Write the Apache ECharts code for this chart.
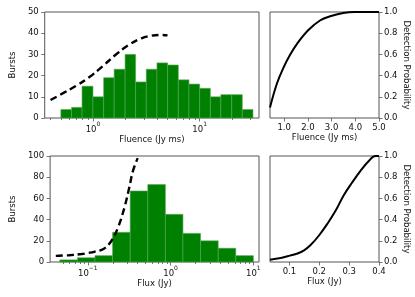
<!DOCTYPE html>
<html>
<head>
<meta charset="utf-8">
<script src="https://cdn.jsdelivr.net/npm/echarts@6/dist/echarts.min.js"></script>
<style>html,body{margin:0;padding:0;background:#fff}#c{width:415px;height:297px}</style>
</head>
<body>
<div id="c"></div>
<script>
// ---- Data ----
const fluenceBinEdges = [0.50, 0.63, 0.79, 1.0, 1.26, 1.58, 2.0, 2.51, 3.16, 3.98, 5.01, 6.31, 7.94, 10.0, 12.6, 15.8, 20.0, 25.1, 31.6];
const fluenceCounts = [4, 5, 15, 10, 19, 23, 30, 17, 23, 26, 25, 18, 16, 14, 10, 11, 11, 4];
const fluenceCurveX = [0.40, 0.52, 0.69, 0.92, 1.22, 1.62, 2.15, 2.85, 3.53, 4.36, 5.0];
const fluenceCurveY = [8.5, 11.6, 15.1, 19.2, 24.2, 29.7, 34.4, 37.6, 38.8, 39.2, 39.0];

const fluxBinEdges = [0.0458, 0.0748, 0.122, 0.199, 0.325, 0.530, 0.865, 1.41, 2.30, 3.76, 6.13, 10.0];
const fluxCounts = [2, 4, 6, 28, 67, 73, 45, 27, 20, 13, 6];
const fluxCurveX = [0.041, 0.059, 0.084, 0.10, 0.119, 0.156, 0.194, 0.232, 0.277, 0.316, 0.351, 0.40];
const fluxCurveY = [5.8, 6.4, 7.5, 8.5, 9.6, 12.5, 20.3, 32.8, 51.5, 70, 86, 98];

const probFluenceX = [0.40, 0.70, 0.98, 1.23, 1.54, 2.02, 2.51, 2.94, 3.49, 3.95, 5.0];
const probFluenceY = [0.10, 0.33, 0.48, 0.59, 0.70, 0.83, 0.92, 0.96, 0.99, 1.0, 1.0];
const probFluxX = [0.035, 0.071, 0.102, 0.127, 0.149, 0.171, 0.199, 0.227, 0.254, 0.282, 0.310, 0.338, 0.365, 0.388, 0.40];
const probFluxY = [0.022, 0.038, 0.06, 0.08, 0.11, 0.16, 0.25, 0.36, 0.48, 0.63, 0.75, 0.86, 0.95, 1.0, 1.0];

const fluenceMajorTicks = [1, 10];
const fluenceMajorExp = ['0', '1'];
const fluenceMinorTicks = [0.4, 0.5, 0.6, 0.7, 0.8, 0.9, 2, 3, 4, 5, 6, 7, 8, 9, 20, 30];
const fluxMajorTicks = [0.1, 1, 10];
const fluxMajorExp = ['\u22121', '0', '1'];
const fluxMinorTicks = [0.05, 0.06, 0.07, 0.08, 0.09, 0.2, 0.3, 0.4, 0.5, 0.6, 0.7, 0.8, 0.9, 2, 3, 4, 5, 6, 7, 8, 9];
const probFluenceTicks = [1, 2, 3, 4, 5];
const probFluxTicks = [0.1, 0.2, 0.3, 0.4];

// ---- Styles ----
const FONT = 'DejaVu Sans';
const FS = 8.5;
const TXT = '#111';
const FRAME = '#555';
const zip = (a, b) => a.map((v, i) => [v, b[i]]);
const lookup = (vals, exps) => v => {
  let best = 0, d = Infinity;
  vals.forEach((t, i) => { const dd = Math.abs(Math.log(t) - Math.log(v)); if (dd < d) { d = dd; best = i; } });
  return '{b|10}{s|' + exps[best] + '}';
};
const grids = [
  {left: 42, top: 12, width: 217, height: 106},
  {left: 270, top: 12, width: 109, height: 106},
  {left: 42, top: 156, width: 217, height: 106},
  {left: 270, top: 156, width: 109, height: 106}
].map(g => Object.assign({show: true, borderColor: FRAME, borderWidth: 1, backgroundColor: 'transparent'}, g));

const labelStyle = {fontFamily: FONT, fontSize: FS, color: TXT};
const nameStyle = {fontFamily: FONT, fontSize: FS, color: TXT};
const tick = (len) => ({show: true, length: len, lineStyle: {color: FRAME, width: 0.8}});
const rich = {
  b: {fontFamily: FONT, fontSize: FS, color: TXT, verticalAlign: 'bottom', lineHeight: 13},
  s: {fontFamily: FONT, fontSize: 6, color: TXT, verticalAlign: 'top', lineHeight: 13}
};

function logAxis(grid, min, max, major, exps, minor, name) {
  return [
    {type: 'log', logBase: 10, gridIndex: grid, min: min, max: max, position: 'bottom',
     axisLine: {show: false}, splitLine: {show: false},
     axisTick: Object.assign(tick(3.5), {customValues: major}),
     axisLabel: Object.assign({customValues: major, margin: 3, formatter: lookup(major, exps), rich: rich}, labelStyle),
     name: name, nameLocation: 'middle', nameGap: 15, nameTextStyle: nameStyle},
    {type: 'log', logBase: 10, gridIndex: grid, min: min, max: max, position: 'bottom',
     axisLine: {show: false}, splitLine: {show: false},
     axisTick: Object.assign(tick(2), {customValues: minor}),
     axisLabel: {show: false}}
  ];
}
function linAxis(grid, min, max, ticks, name) {
  return {type: 'value', gridIndex: grid, min: min, max: max, position: 'bottom',
    axisLine: {show: false}, splitLine: {show: false},
    axisTick: Object.assign(tick(3.5), {customValues: ticks}),
    axisLabel: Object.assign({customValues: ticks, margin: 5, formatter: v => v.toFixed(1)}, labelStyle),
    name: name, nameLocation: 'middle', nameGap: 15, nameTextStyle: nameStyle};
}
function countAxis(grid, max, interval) {
  return {type: 'value', gridIndex: grid, min: 0, max: max, interval: interval, position: 'left',
    axisLine: {show: false}, splitLine: {show: false}, axisTick: tick(3.5),
    axisLabel: Object.assign({margin: 6}, labelStyle),
    name: 'Bursts', nameLocation: 'middle', nameGap: 25, nameRotate: 90, nameTextStyle: nameStyle};
}
function probAxis(grid) {
  return {type: 'value', gridIndex: grid, min: 0, max: 1, interval: 0.2, position: 'right',
    axisLine: {show: false}, splitLine: {show: false}, axisTick: tick(3.5),
    axisLabel: Object.assign({margin: 5, formatter: v => v.toFixed(1)}, labelStyle),
    name: 'Detection Probability', nameLocation: 'middle', nameGap: 12, nameRotate: -90, nameTextStyle: nameStyle};
}

const fluenceAx = logAxis(0, 0.353, 36, fluenceMajorTicks, fluenceMajorExp, fluenceMinorTicks, 'Fluence (Jy ms)');
const fluxAx = logAxis(2, 0.035, 11.7, fluxMajorTicks, fluxMajorExp, fluxMinorTicks, 'Flux (Jy)');
const xAxes = [
  fluenceAx[0], fluenceAx[1],
  linAxis(1, 0.4, 5.0, probFluenceTicks, 'Fluence (Jy ms)'),
  fluxAx[0], fluxAx[1],
  linAxis(3, 0.035, 0.4, probFluxTicks, 'Flux (Jy)')
];
const yAxes = [countAxis(0, 50, 10), probAxis(1), countAxis(2, 100, 20), probAxis(3)];

function histRender(params, api) {
  const p0 = api.coord([api.value(0), 0]);
  const p1 = api.coord([api.value(1), api.value(2)]);
  return {type: 'rect', shape: {x: p0[0], y: p1[1], width: p1[0] - p0[0], height: p0[1] - p1[1]},
    style: {fill: '#008000', stroke: '#55a555', lineWidth: 0.6}};
}
const histData = (edges, counts) => counts.map((c, i) => [edges[i], edges[i + 1], c]);

const dashed = {color: '#000', width: 2.4, type: [7, 4], cap: 'butt'};
const solid = {color: '#000', width: 2};

const option = {
  animation: false,
  grid: grids,
  xAxis: xAxes,
  yAxis: yAxes,
  series: [
    {type: 'custom', xAxisIndex: 0, yAxisIndex: 0, renderItem: histRender, data: histData(fluenceBinEdges, fluenceCounts), encode: {x: [0, 1], y: 2}},
    {type: 'line', xAxisIndex: 0, yAxisIndex: 0, data: zip(fluenceCurveX, fluenceCurveY), showSymbol: false, smooth: 0.4, lineStyle: dashed, z: 5},
    {type: 'line', xAxisIndex: 2, yAxisIndex: 1, data: zip(probFluenceX, probFluenceY), showSymbol: false, smooth: 0.4, lineStyle: solid},
    {type: 'custom', xAxisIndex: 3, yAxisIndex: 2, renderItem: histRender, data: histData(fluxBinEdges, fluxCounts), encode: {x: [0, 1], y: 2}},
    {type: 'line', xAxisIndex: 3, yAxisIndex: 2, data: zip(fluxCurveX, fluxCurveY), showSymbol: false, smooth: 0.4, lineStyle: dashed, z: 5},
    {type: 'line', xAxisIndex: 5, yAxisIndex: 3, data: zip(probFluxX, probFluxY), showSymbol: false, smooth: 0.4, lineStyle: solid}
  ]
};
const chart = echarts.init(document.getElementById('c'), null, {renderer: 'canvas'});
chart.setOption(option);
</script>
</body>
</html>
